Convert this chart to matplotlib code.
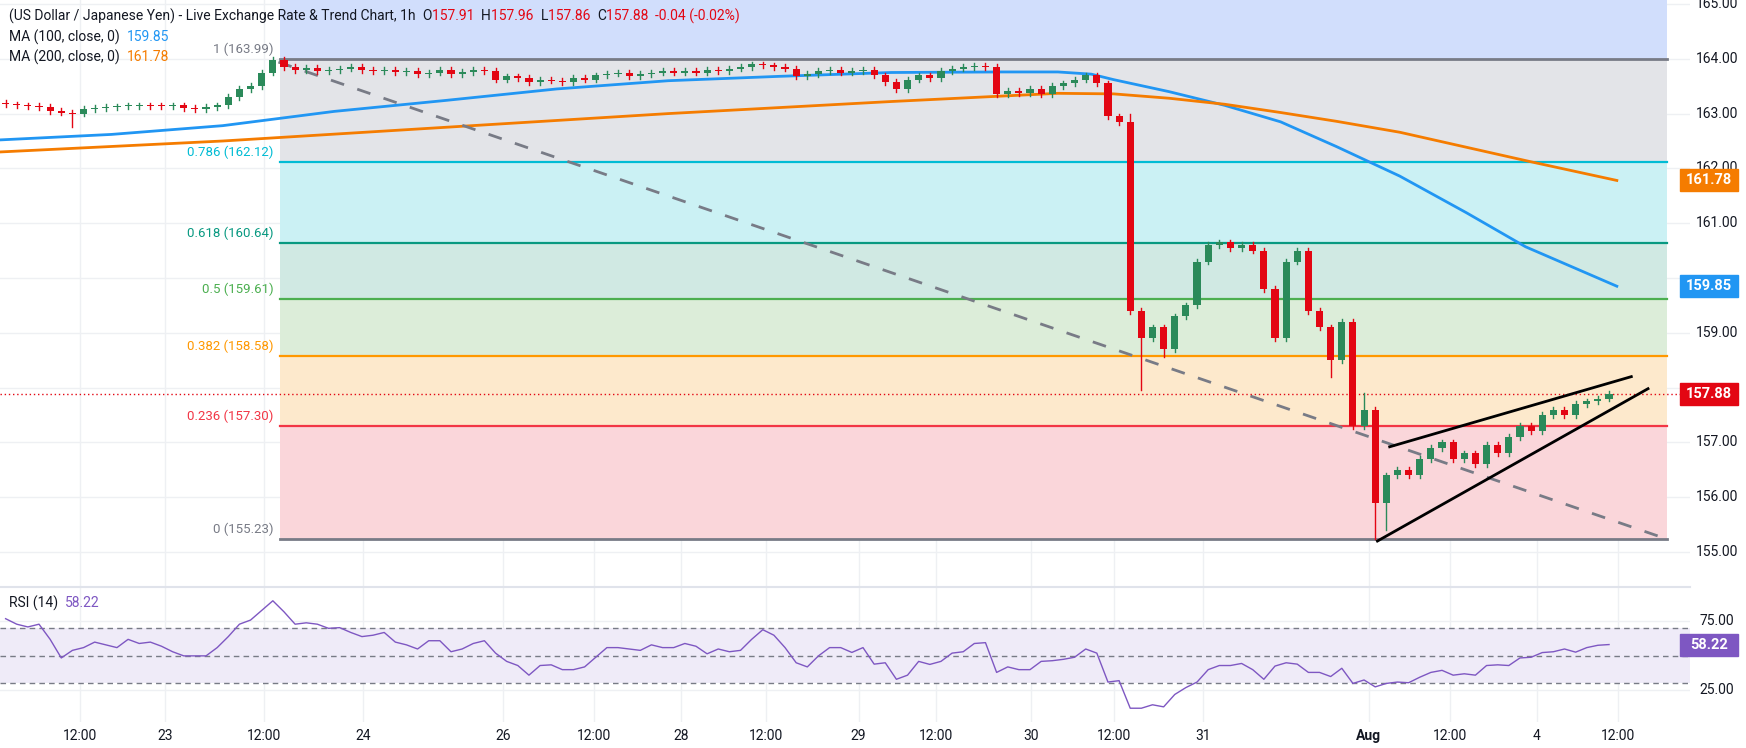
import matplotlib
matplotlib.use("Agg")
import matplotlib.pyplot as plt
from matplotlib.patches import Rectangle

plt.rcParams['font.family'] = ['Roboto', 'DejaVu Sans']

W, H = 1746, 748

# hourly closes, one per bar
closes = [163.17, 163.15, 163.14, 163.12, 163.05, 163.02, 163.00, 163.08, 163.10, 163.12,
          163.13, 163.14, 163.15, 163.14, 163.13, 163.15, 163.10, 163.08, 163.12, 163.15,
          163.30, 163.45, 163.50, 163.75, 163.98, 163.85, 163.80, 163.83, 163.78, 163.80,
          163.82, 163.85, 163.80, 163.78, 163.80, 163.76, 163.78, 163.72, 163.75, 163.80,
          163.72, 163.76, 163.80, 163.78, 163.62, 163.68, 163.65, 163.58, 163.62, 163.60,
          163.58, 163.65, 163.62, 163.70, 163.73, 163.75, 163.68, 163.72, 163.75, 163.78,
          163.75, 163.78, 163.75, 163.80, 163.78, 163.82, 163.85, 163.90, 163.88, 163.85,
          163.82, 163.68, 163.72, 163.78, 163.80, 163.75, 163.78, 163.80, 163.70, 163.58,
          163.45, 163.62, 163.70, 163.65, 163.78, 163.82, 163.85, 163.87, 163.85, 163.35,
          163.42, 163.38, 163.45, 163.35, 163.50, 163.55, 163.62, 163.70, 163.55, 162.95,
          162.85, 159.40, 158.90, 159.10, 158.70, 159.30, 159.50, 160.30, 160.60, 160.65,
          160.55, 160.60, 160.50, 159.80, 158.90, 160.30, 160.50, 159.40, 159.10, 158.50,
          159.20, 157.30, 157.60, 155.90, 156.40, 156.50, 156.40, 156.70, 156.90, 157.00,
          156.70, 156.80, 156.60, 156.95, 156.80, 157.10, 157.30, 157.20, 157.50, 157.60,
          157.50, 157.70, 157.75, 157.80, 157.88]
first_open = 163.20
wick = 0.05
low_over = {6: 162.75, 102: 157.96, 104: 158.55, 119: 158.2, 123: 155.23, 124: 155.4}
high_over = {122: 157.9, 101: 163.0}

rsi = [77, 73, 71, 73, 62, 48.5, 54, 56, 60, 58, 56, 62, 59, 60, 57, 53, 50, 50, 50, 56,
       64, 73, 76, 83, 90, 82, 73, 74, 73, 70, 70.5, 67, 64, 65, 67, 60, 58, 55, 61, 61,
       53, 55, 59, 61, 52, 46, 43, 36, 43, 43.5, 40, 40, 42, 49, 56, 56, 55, 54, 58, 56,
       56, 59, 57, 51.5, 55, 53, 54, 62, 69, 65, 56, 45, 42, 50, 56, 56, 52.5, 56, 44, 45,
       33, 36, 46, 43.8, 46, 52, 53, 59, 59.6, 38, 42, 40, 40, 46, 46.5, 47.5, 49, 55, 52, 31,
       32, 12, 12, 14.5, 13, 22, 27, 31, 40, 43, 43, 44.5, 40, 33, 42.6, 45, 44, 38, 38, 35,
       41, 30, 32.5, 27.5, 30, 31, 30.5, 34.5, 38, 39.5, 36, 37, 36, 43, 43.5, 43, 48.5, 49,
       52.4, 53, 55, 52.7, 56, 57.7, 58.22]

ma100_x = [-0.5, 9.5, 19.5, 29.5, 39.5, 49.5, 59.5, 69.5, 79.5, 89.5, 94.5, 97.5, 99.5,
           104.5, 109.5, 114.5, 119.5, 125.2, 131.2, 136.5, 144.7]
ma100_y = [162.52, 162.62, 162.78, 163.04, 163.24, 163.45, 163.6, 163.68, 163.75, 163.76,
           163.76, 163.72, 163.62, 163.4, 163.15, 162.85, 162.4, 161.86, 161.19, 160.57, 159.85]
ma200_x = [-0.5, 19.5, 39.5, 59.5, 79.5, 89.5, 94.5, 99.5, 104.5, 109.5, 114.5, 119.5,
           125.2, 137.0, 144.7]
ma200_y = [162.3, 162.5, 162.75, 163.0, 163.22, 163.32, 163.37, 163.36, 163.28, 163.17,
           163.02, 162.86, 162.66, 162.12, 161.78]

fib_ratio = ['1', '0.786', '0.618', '0.5', '0.382', '0.236', '0']
fib_price = [163.99, 162.12, 160.64, 159.61, 158.58, 157.30, 155.23]
fib_line = ['#787b86', '#00bcd4', '#089981', '#4caf50', '#ff9800', '#f23645', '#787b86']
fib_fill = ['#e3e4e8', '#cbf1f4', '#d0e9e3', '#dcedd9', '#fde9cc', '#fad6da']

tick_pos = [6.68, 14.3, 23.2, 32.1, 44.7, 52.8, 60.7, 68.3, 76.6, 83.6, 92.1, 99.5,
            107.5, 122.4, 129.7, 137.5, 144.8]
tick_lab = ['12:00', '23', '12:00', '24', '26', '12:00', '28', '12:00', '29', '12:00',
            '30', '12:00', '31', 'Aug', '12:00', '4', '12:00']

# pixel geometry
x_left_px, x_right_px = 0, 1690
px_per_bar = 11.135
x0_px = 5.6
xlim = ((x_left_px - x0_px) / px_per_bar, (x_right_px - x0_px) / px_per_bar)

fig = plt.figure(figsize=(W / 100, H / 100), dpi=100)
ax = fig.add_axes([0, 1 - 586 / H, x_right_px / W, 586 / H])
axr = fig.add_axes([0, 1 - 722 / H, x_right_px / W, 135 / H])

green, red = '#2b8a5a', '#e30613'
grid_c = '#eef0f3'

ax.set_xlim(*xlim)
ax.set_ylim(155 - 34 / 54.8, 165 + 4 / 54.8)
axr.set_xlim(*xlim)
axr.set_ylim(2, 100)

for a in (ax, axr):
    for s in a.spines.values():
        s.set_visible(False)
    a.set_xticks([])
    a.set_yticks([])
    for t in tick_pos:
        a.axvline(t, color=grid_c, lw=1, zorder=0)

for p in range(155, 166):
    ax.axhline(p, color=grid_c, lw=1, zorder=0)
    if p in (158, 160):
        continue  # hidden behind the price tags
    fig.text(1717 / W, ax.transData.transform((0, p))[1] / H, f'{p:.2f}',
             ha='center', va='center', fontsize=10, color='#131722')
for p in (25, 75):
    axr.axhline(p, color=grid_c, lw=1, zorder=0)
    fig.text(1717 / W, axr.transData.transform((0, p))[1] / H, f'{p:.2f}',
             ha='center', va='center', fontsize=10, color='#131722')

# fib zones
fx0 = (280 - x0_px) / px_per_bar
fx1 = (1667 - x0_px) / px_per_bar
ax.add_patch(Rectangle((fx0, fib_price[0]), fx1 - fx0, 166 - fib_price[0],
                       color='#d1defc', zorder=1, lw=0))
for i in range(6):
    ax.add_patch(Rectangle((fx0, fib_price[i + 1]), fx1 - fx0, fib_price[i] - fib_price[i + 1],
                           color=fib_fill[i], zorder=1, lw=0))
for r, p, c in zip(fib_ratio, fib_price, fib_line):
    ax.plot([fx0, fx1], [p, p], color=c, lw=2 if c == '#787b86' else 1.6, zorder=2)
    ax.text(fx0 - 0.6, p + 0.06, f'{r} ({p:.2f})', ha='right', va='bottom',
            fontsize=9.5, color='#00bcd4' if r == '0.786' else ('#787b86' if r in ('1', '0') else c))

# moving averages
ax.plot(ma100_x, ma100_y, color='#2196f3', lw=2, zorder=3)
ax.plot(ma200_x, ma200_y, color='#f57c00', lw=2, zorder=3)

# trend lines
ax.plot([24.5, 149], [163.94, 155.25], color='#787b86', lw=2, ls=(0, (5, 5)), zorder=3)
ax.plot([123.2, 147.5], [155.2, 157.98], color='black', lw=2, zorder=5)
ax.plot([124.3, 146], [156.92, 158.2], color='black', lw=2, zorder=5)

# candles
opens = [first_open] + closes[:-1]
for i, (o, c) in enumerate(zip(opens, closes)):
    col = green if c >= o else red
    hi = high_over.get(i, max(o, c) + wick)
    lo = low_over.get(i, min(o, c) - wick)
    ax.plot([i, i], [lo, hi], color=col, lw=1, zorder=4)
    ax.add_patch(Rectangle((i - 0.32, min(o, c)), 0.64, max(abs(c - o), 0.02),
                           color=col, zorder=4, lw=0))

last = closes[-1]
ax.axhline(last, color=red, lw=1, ls=(0, (1, 2)), zorder=3)


def tag(a, val, text, col):
    y = a.transData.transform((0, val))[1] / H
    fig.patches.append(Rectangle((1680 / W, y - 11 / H), 58 / W, 22 / H, color=col,
                                 transform=fig.transFigure, zorder=5))
    fig.text(1709 / W, y, text, ha='center', va='center', fontsize=10.5,
             color='white', fontweight='bold', zorder=6)


# RSI
axr.add_patch(Rectangle((xlim[0], 30), xlim[1] - xlim[0], 40, color='#efebf8', lw=0, zorder=1))
for lv in (30, 50, 70):
    axr.axhline(lv, color='#787b86', lw=1, ls=(0, (4, 3)), zorder=2)
axr.plot(range(len(rsi)), rsi, color='#7e57c2', lw=1, zorder=3)
fig.add_artist(plt.Line2D([0, x_right_px / W], [1 - 587 / H, 1 - 587 / H],
                          color='#e0e3eb', lw=1.5))

fig.canvas.draw()
tag(ax, 161.78, '161.78', '#f57c00')
tag(ax, 159.85, '159.85', '#2196f3')
tag(ax, last, '157.88', red)
tag(axr, 58.22, '58.22', '#7e57c2')

# time axis
for t, lab in zip(tick_pos, tick_lab):
    xp = axr.transData.transform((t, 0))[0] / W
    fig.text(xp, 1 - 736 / H, lab, ha='center', va='center', fontsize=10,
             color='#131722', fontweight='bold' if lab == 'Aug' else 'normal')

# header legend
renderer = fig.canvas.get_renderer()


def chain(x, y, parts):
    for s, c in parts:
        t = fig.text(x / W, 1 - y / H, s, ha='left', va='center', fontsize=10, color=c)
        x += t.get_window_extent(renderer).width
    return x


chain(9, 16, [('(US Dollar / Japanese Yen) - Live Exchange Rate & Trend Chart, 1h  ', '#131722'),
              ('O', '#131722'), ('157.91  ', red), ('H', '#131722'), ('157.96  ', red),
              ('L', '#131722'), ('157.86  ', red), ('C', '#131722'), ('157.88  ', red),
              ('-0.04 (-0.02%)', red)])
chain(9, 37, [('MA (100, close, 0)  ', '#131722'), ('159.85', '#2196f3')])
chain(9, 57, [('MA (200, close, 0)  ', '#131722'), ('161.78', '#f57c00')])
chain(9, 603, [('RSI (14)  ', '#131722'), ('58.22', '#7e57c2')])

fig.savefig('out.png', dpi=100)
